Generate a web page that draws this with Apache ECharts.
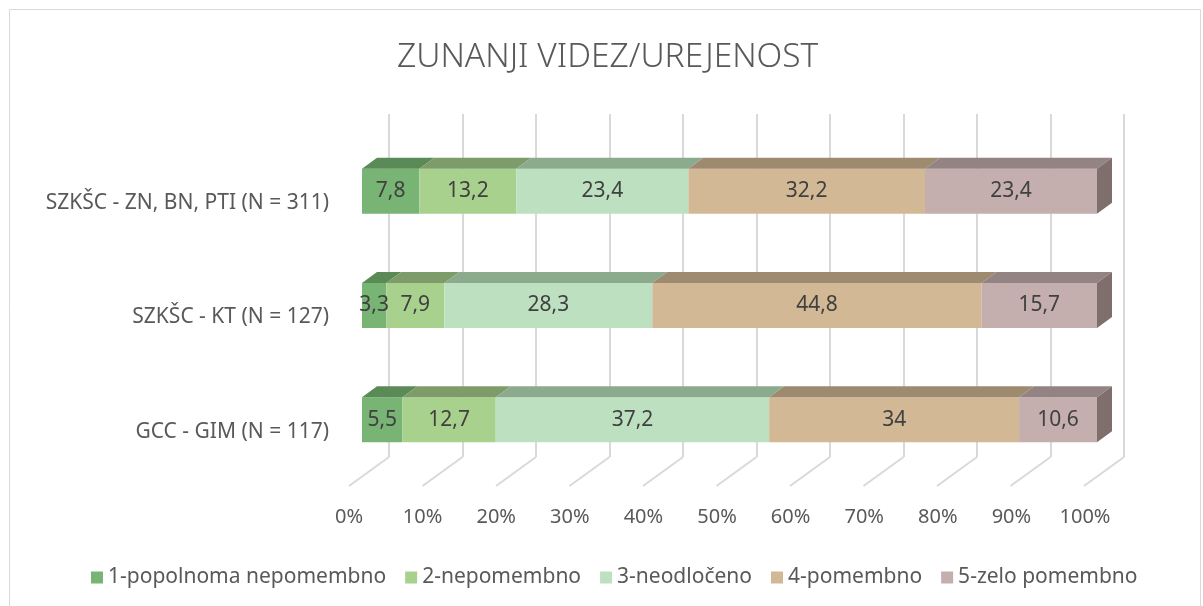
<!DOCTYPE html>
<html>
<head>
<meta charset="utf-8">
<title>ZUNANJI VIDEZ/UREJENOST</title>
<script src="https://cdn.jsdelivr.net/npm/echarts@6/dist/echarts.min.js"></script>
<style>
  html, body { margin: 0; padding: 0; background: #fff; }
  #chart { width: 1203px; height: 606px; }
</style>
</head>
<body>
<div id="chart"></div>
<script>
// podatki (odstotki)
var categories = ["SZKŠC - ZN, BN, PTI (N = 311)", "SZKŠC - KT (N = 127)", "GCC - GIM (N = 117)"];
var seriesNames = ["1-popolnoma nepomembno", "2-nepomembno", "3-neodločeno", "4-pomembno", "5-zelo pomembno"];
var s1 = [7.8, 3.3, 5.5];
var s2 = [13.2, 7.9, 12.7];
var s3 = [23.4, 28.3, 37.2];
var s4 = [32.2, 44.8, 34];
var s5 = [23.4, 15.7, 10.6];
var xTicks = [0, 10, 20, 30, 40, 50, 60, 70, 80, 90, 100];

var allValues = [s1, s2, s3, s4, s5];
var frontColors = ["#78b473", "#a9d18e", "#bde1c0", "#d2b894", "#c4aeae"];
var topColors = ["#5a8a56", "#7e9c69", "#8baa8e", "#9e8a6e", "#948383"];
var sideColor = "#7e6f6d";

var FONT = "Noto Sans";
var BAR_H = 45;
var DX = 15, DY = 11; // globina stolpca

var chart = echarts.init(document.getElementById("chart"));

// zgornje ploskve (3D videz)
var topData = [];
categories.forEach(function (c, i) {
  var acc = 0;
  allValues.forEach(function (arr, k) {
    topData.push([i, acc, acc + arr[i], k]);
    acc += arr[i];
  });
});

function renderTop(params, api) {
  var cat = api.value(0), k = api.value(3);
  var a = api.coord([api.value(1), cat]);
  var b = api.coord([api.value(2), cat]);
  var yt = a[1] - BAR_H / 2;
  var yb = a[1] + BAR_H / 2;
  var children = [{
    type: "polygon",
    shape: { points: [[a[0], yt], [b[0], yt], [b[0] + DX, yt - DY], [a[0] + DX, yt - DY]] },
    style: { fill: topColors[k] }
  }];
  if (k === allValues.length - 1) {
    children.push({
      type: "polygon",
      shape: { points: [[b[0], yt], [b[0] + DX, yt - DY], [b[0] + DX, yb - DY], [b[0], yb]] },
      style: { fill: sideColor }
    });
  }
  return { type: "group", children: children };
}

// diagonalne črte na tleh
function renderFloor(params, api) {
  var p = api.coord([api.value(0), 0]);
  return {
    type: "line",
    shape: { x1: p[0], y1: p[1], x2: p[0] - 40, y2: p[1] + 29 },
    style: { stroke: "#d9d9d9", lineWidth: 2 }
  };
}

var barSeries = seriesNames.map(function (name, k) {
  return {
    name: name,
    type: "bar",
    stack: "total",
    xAxisIndex: 0,
    yAxisIndex: 0,
    barWidth: BAR_H,
    itemStyle: { color: frontColors[k] },
    label: {
      show: true,
      position: "inside",
      color: "#404040",
      fontFamily: FONT,
      fontSize: 21,
      formatter: function (p) { return String(p.value).replace(".", ","); }
    },
    data: allValues[k]
  };
});

var option = {
  animation: false,
  textStyle: { fontFamily: FONT },
  title: {
    text: "ZUNANJI VIDEZ/UREJENOST",
    left: 392,
    top: 35,
    textStyle: { fontFamily: FONT, fontSize: 33.5, fontWeight: 300, color: "#595959" }
  },
  legend: {
    data: seriesNames,
    left: 86,
    top: 562,
    icon: "rect",
    itemWidth: 12,
    itemHeight: 12,
    itemGap: 19,
    textStyle: { fontFamily: FONT, fontSize: 21, color: "#595959" }
  },
  graphic: [{
    type: "rect",
    shape: { x: 9.5, y: 9.5, width: 1191, height: 610 },
    style: { fill: "none", stroke: "#d9d9d9", lineWidth: 1 },
    silent: true
  }],
  grid: [
    { left: 362, right: 106, top: 134, bottom: 129 },
    { left: 389, right: 79, top: 114, bottom: 149 },
    { left: 349, right: 118, top: 400, bottom: 120 }
  ],
  xAxis: [
    { gridIndex: 0, type: "value", min: 0, max: 100, show: false },
    {
      gridIndex: 1, type: "value", min: 0, max: 100, interval: 10,
      axisLine: { show: false }, axisTick: { show: false }, axisLabel: { show: false },
      splitLine: { show: true, lineStyle: { color: "#d9d9d9", width: 2 } }
    },
    {
      gridIndex: 2, type: "value", min: 0, max: 100, interval: 10,
      axisLine: { show: false }, axisTick: { show: false }, splitLine: { show: false },
      axisLabel: { margin: 21, fontFamily: FONT, fontSize: 20, color: "#595959", formatter: "{value}%" }
    }
  ],
  yAxis: [
    {
      gridIndex: 0, type: "category", data: categories, inverse: true,
      axisLine: { show: false }, axisTick: { show: false }, splitLine: { show: false },
      axisLabel: {
        margin: 33, fontFamily: FONT, fontSize: 21, color: "#595959",
        verticalAlign: "top", lineHeight: 24
      }
    },
    { gridIndex: 1, type: "value", min: 0, max: 1, show: false },
    { gridIndex: 2, type: "value", min: 0, max: 1, show: false }
  ],
  series: barSeries.concat([
    {
      type: "custom",
      name: "tla",
      xAxisIndex: 1,
      yAxisIndex: 1,
      silent: true,
      renderItem: renderFloor,
      encode: { x: 0 },
      data: xTicks.map(function (t) { return [t]; }),
      z: 1
    },
    {
      type: "custom",
      name: "vrh",
      xAxisIndex: 0,
      yAxisIndex: 0,
      silent: true,
      renderItem: renderTop,
      encode: { x: [1, 2], y: 0 },
      data: topData,
      z: 3
    }
  ])
};

chart.setOption(option);
</script>
</body>
</html>
